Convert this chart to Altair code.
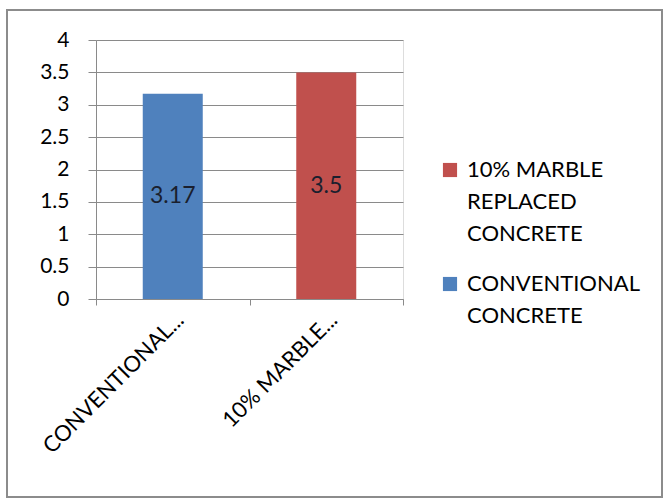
import altair as alt
import pandas as pd

# ---- data ----
categories = ["CONVENTIONAL CONCRETE", "10% MARBLE REPLACED CONCRETE"]
axis_labels = ["CONVENTIONAL...", "10% MARBLE..."]
legend_labels = ["CONVENTIONAL|CONCRETE", "10% MARBLE|REPLACED|CONCRETE"]
values = [3.17, 3.5]
colors = ["#4F81BD", "#C0504D"]
y_ticks = [0, 0.5, 1, 1.5, 2, 2.5, 3, 3.5, 4]

df = pd.DataFrame({
    "category": categories,
    "short": axis_labels,
    "legend": legend_labels,
    "value": values,
})

W, H = 307, 259
FONT = "Lato"
GRID = "#8a8a8a"

legend_order = [legend_labels[1], legend_labels[0]]
legend_colors = [colors[1], colors[0]]

x_enc = alt.X("short:N", sort=axis_labels, title=None,
              scale=alt.Scale(paddingInner=0, paddingOuter=0),
              axis=alt.Axis(labelAngle=-45, labelFont=FONT, labelFontSize=22,
                            labelColor="#000000", tickBand="extent", tickSize=6,
                            tickColor=GRID, domainColor=GRID, grid=False,
                            labelPadding=4, labelLimit=400))

y_axis = alt.Axis(values=y_ticks, format="~g", labelFont=FONT,
                  labelFontSize=21, labelColor="#000000", labelOverlap=False,
                  tickSize=8, tickColor=GRID, domainColor=GRID,
                  gridColor=GRID, labelPadding=19)
y_scale = alt.Scale(domain=[0, 4], nice=False)

base = alt.Chart(df)

bars = base.mark_bar(size=60).encode(
    x=x_enc,
    y=alt.Y("value:Q", title=None, scale=y_scale, axis=y_axis),
    color=alt.Color("legend:N", title=None,
                    scale=alt.Scale(domain=legend_order, range=legend_colors),
                    legend=alt.Legend(orient="none", legendX=343, legendY=119,
                                      labelExpr="split(datum.label, '|')",
                                      labelFont=FONT, labelFontSize=22,
                                      labelColor="#000000",
                                      symbolType="square", symbolSize=200,
                                      symbolStrokeWidth=0, labelOffset=6,
                                      rowPadding=28, labelLimit=300)),
)

labels = base.transform_calculate(half="datum.value / 2").mark_text(
    font=FONT, fontSize=23, color="#1a1f2e"
).encode(
    x=x_enc,
    y=alt.Y("half:Q", title=None, scale=y_scale, axis=y_axis),
    text=alt.Text("value:Q", format="~g"),
)

frame = base.mark_rect(filled=False, stroke="#8c8c8c", strokeWidth=2).encode(
    x=alt.value(-89), x2=alt.value(566), y=alt.value(-30), y2=alt.value(457)
)

chart = alt.layer(frame, bars, labels).properties(
    width=W, height=H,
    autosize=alt.AutoSizeParams(type="none"),
    padding={"left": 96, "top": 40, "right": 664 - 96 - W, "bottom": 499 - 40 - H},
).configure_view(stroke=None).configure(
    style={"guide-label": {"lineHeight": 32}}
)

chart.save("out.html", embed_options={"renderer": "svg", "actions": False})
